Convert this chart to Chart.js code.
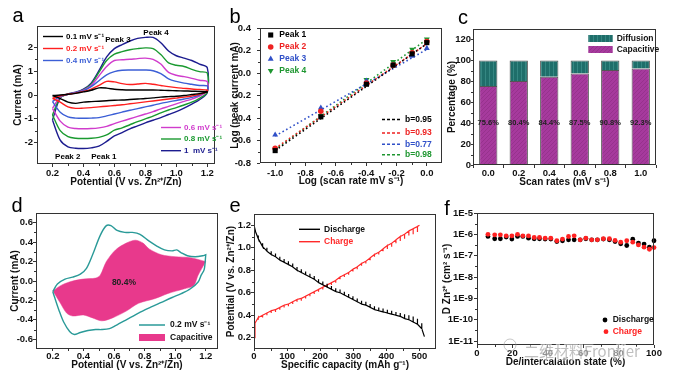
<!DOCTYPE html>
<html><head><meta charset="utf-8"><title>Zn-ion cathode kinetics</title>
<script src="https://cdn.jsdelivr.net/npm/chart.js@4.4.1/dist/chart.umd.min.js"></script>
<style>
html,body{margin:0;padding:0;background:#fff;overflow:hidden}
#fig{position:relative;width:677px;height:377px;background:#fff}
#fig canvas{position:absolute}
</style></head><body><div id="fig"></div>
<script>
// ================= DATA =================
// (a) CV curves at different scan rates
const cvPotentialUp   = [0.2,0.25,0.3,0.35,0.4,0.45,0.5,0.55,0.6,0.65,0.7,0.75,0.8,0.85,0.9,0.95,1.0,1.05,1.1,1.15,1.2];
const cvPotentialDown = [1.2,1.15,1.1,1.05,1.0,0.95,0.9,0.85,0.8,0.75,0.7,0.65,0.6,0.55,0.5,0.45,0.4,0.35,0.3,0.25,0.2];
const cvRateLabels = ['0.1 mV s⁻¹','0.2 mV s⁻¹','0.4 mV s⁻¹','0.6 mV s⁻¹','0.8 mV s⁻¹','1  mV s⁻¹'];
const cvUp01   = [-0.02,0.0,0.03,0.07,0.13,0.2,0.3,0.29,0.24,0.22,0.21,0.21,0.21,0.21,0.2,0.19,0.18,0.17,0.16,0.15,0.14];
const cvDown01 = [0.12,0.06,0.02,-0.02,-0.05,-0.07,-0.09,-0.12,-0.15,-0.17,-0.19,-0.21,-0.22,-0.24,-0.26,-0.28,-0.3,-0.35,-0.3,-0.15,-0.02];
const cvUp02   = [-0.14,-0.03,0.03,0.08,0.15,0.25,0.4,0.57,0.55,0.48,0.44,0.46,0.49,0.45,0.4,0.35,0.31,0.28,0.25,0.23,0.21];
const cvDown02 = [0.15,0.03,-0.04,-0.09,-0.13,-0.17,-0.21,-0.25,-0.29,-0.33,-0.37,-0.41,-0.44,-0.47,-0.5,-0.53,-0.55,-0.56,-0.5,-0.3,-0.14];
const cvUp04   = [-0.28,-0.05,0.03,0.1,0.18,0.35,0.6,0.85,0.98,1.04,1.05,1.05,1.05,1.02,0.9,0.68,0.57,0.5,0.45,0.4,0.38];
const cvDown04 = [0.2,0.0,-0.1,-0.17,-0.23,-0.29,-0.35,-0.43,-0.5,-0.57,-0.64,-0.72,-0.8,-0.88,-0.95,-0.97,-0.98,-0.97,-0.92,-0.72,-0.28];
const cvUp06   = [-0.56,-0.08,0.03,0.1,0.2,0.4,0.8,1.2,1.45,1.48,1.5,1.53,1.55,1.5,1.3,0.95,0.83,0.77,0.7,0.62,0.56];
const cvDown06 = [0.18,-0.05,-0.17,-0.27,-0.37,-0.48,-0.58,-0.7,-0.8,-0.9,-1.0,-1.1,-1.2,-1.32,-1.38,-1.41,-1.42,-1.41,-1.35,-1.1,-0.56];
const cvUp08   = [-0.84,-0.1,0.03,0.1,0.22,0.45,0.95,1.45,1.72,1.82,1.9,1.95,1.98,1.95,1.7,1.35,1.25,1.2,1.08,0.98,0.92];
const cvDown08 = [0.12,-0.14,-0.3,-0.42,-0.53,-0.63,-0.75,-0.89,-1.0,-1.12,-1.25,-1.38,-1.48,-1.68,-1.78,-1.82,-1.83,-1.82,-1.75,-1.5,-0.84];
const cvUp10   = [-1.05,-0.12,0.04,0.12,0.25,0.5,1.02,1.6,1.95,2.12,2.27,2.38,2.42,2.42,2.2,1.85,1.65,1.55,1.45,1.3,1.15];
const cvDown10 = [0.1,-0.2,-0.38,-0.55,-0.7,-0.82,-0.95,-1.06,-1.17,-1.3,-1.42,-1.58,-1.72,-1.95,-2.15,-2.22,-2.25,-2.24,-2.18,-1.9,-1.05];
const peakLabels = ['Peak 3','Peak 4','Peak 2','Peak 1'];
const peakLabelPotential = [0.623, 0.869, 0.299, 0.532];
const peakLabelCurrent   = [2.32, 2.63, -2.58, -2.58];
const aXTicks = [0.2,0.4,0.6,0.8,1.0,1.2];
const aYTicks = [-2,-1,0,1,2];

// (b) log(i) vs log(v)
const logScanRate = [-1.0,-0.699,-0.398,-0.222,-0.097,0.0];
const peakNames = ['Peak 1','Peak 2','Peak 3','Peak 4'];
const logPeak1 = [-0.69,-0.39,-0.10,0.07,0.17,0.27];
const logPeak2 = [-0.67,-0.34,-0.09,0.07,0.18,0.28];
const logPeak3 = [-0.55,-0.31,-0.07,0.07,0.15,0.22];
const logPeak4 = [-0.68,-0.38,-0.06,0.10,0.21,0.30];
const fitRange = [-1.0, 0.0];
const fitPeak1 = [-0.69, 0.26];
const fitPeak2 = [-0.67, 0.26];
const fitPeak3 = [-0.56, 0.21];
const fitPeak4 = [-0.68, 0.30];
const bValueLabels = ['b=0.95','b=0.93','b=0.77','b=0.98'];
const bXTicks = [-1.0,-0.8,-0.6,-0.4,-0.2,0.0];
const bYTicks = [-0.8,-0.6,-0.4,-0.2,0.0,0.2,0.4];

// (c) capacitive / diffusion contributions
const scanRates = ['0.0','0.2','0.4','0.6','0.8','1.0'];
const capacitivePct = [75.6,80.4,84.4,87.5,90.8,92.3];
const diffusionPct  = [24.4,19.6,15.6,12.5,9.2,7.7];
const cYTicks = [0,20,40,60,80,100,120];

// (d) CV at 0.2 mV/s with capacitive region
const dCvUpV   = [0.2,0.23,0.28,0.33,0.38,0.42,0.46,0.51,0.55,0.58,0.62,0.67,0.72,0.77,0.83,0.88,0.93,0.98,1.01,1.04,1.08,1.13,1.18,1.2];
const dCvUpI   = [-0.11,-0.03,0.02,0.04,0.07,0.13,0.27,0.47,0.57,0.57,0.52,0.5,0.5,0.48,0.41,0.36,0.32,0.31,0.32,0.29,0.26,0.25,0.26,0.27];
const dCvDownV = [1.2,1.19,1.17,1.15,1.1,1.04,0.98,0.91,0.84,0.76,0.68,0.61,0.57,0.52,0.48,0.43,0.38,0.34,0.31,0.27,0.24,0.21,0.2];
const dCvDownI = [0.27,0.12,0.06,-0.01,-0.08,-0.13,-0.17,-0.22,-0.27,-0.33,-0.4,-0.46,-0.49,-0.5,-0.5,-0.51,-0.53,-0.55,-0.52,-0.42,-0.3,-0.16,-0.11];
const dCapUpV   = [0.2,0.26,0.33,0.4,0.48,0.51,0.55,0.61,0.68,0.74,0.79,0.83,0.91,1.0,1.1,1.2];
const dCapUpI   = [-0.1,-0.04,0.0,0.02,0.03,0.06,0.2,0.32,0.39,0.42,0.39,0.33,0.27,0.25,0.24,0.2];
const dCapDownV = [1.2,1.15,1.12,1.06,0.95,0.87,0.76,0.68,0.59,0.52,0.46,0.4,0.33,0.29,0.25,0.2];
const dCapDownI = [0.2,0.06,-0.05,-0.08,-0.13,-0.18,-0.23,-0.31,-0.38,-0.41,-0.38,-0.35,-0.36,-0.33,-0.23,-0.1];
const dCapacitiveShare = '80.4%';
const dXTicks = [0.2,0.4,0.6,0.8,1.0,1.2];
const dYTicks = [-0.6,-0.4,-0.2,0.0,0.2,0.4,0.6];

// (e) GITT profiles
const dischargeCap   = [0,5,13,26,39,52,65,78,91,104,117,130,143,156,169,182,195,208,221,234,247,260,273,286,299,312,325,338,351,364,377,390,403,416,429,442,455,468,481,494,507,515];
const dischargeV     = [1.20,1.14,1.08,1.01,0.97,0.94,0.92,0.89,0.87,0.85,0.83,0.80,0.78,0.76,0.74,0.72,0.69,0.67,0.65,0.63,0.61,0.60,0.58,0.56,0.54,0.52,0.50,0.49,0.47,0.45,0.44,0.43,0.42,0.41,0.40,0.39,0.37,0.36,0.34,0.32,0.28,0.21];
const dischargeRelax = [1.20,1.14,1.11,1.04,1.00,0.97,0.95,0.92,0.90,0.88,0.86,0.83,0.81,0.79,0.77,0.75,0.72,0.70,0.68,0.66,0.64,0.63,0.61,0.59,0.57,0.55,0.53,0.52,0.50,0.48,0.47,0.46,0.45,0.44,0.43,0.42,0.41,0.40,0.39,0.37,0.33,0.21];
const chargeCap      = [0,3,13,26,39,52,65,78,91,104,117,130,143,156,169,182,195,208,221,234,247,260,273,286,299,312,325,338,351,364,377,390,403,416,429,442,455,468,481,494,500];
const chargeV        = [0.20,0.33,0.38,0.40,0.42,0.44,0.45,0.47,0.49,0.50,0.52,0.54,0.55,0.57,0.59,0.61,0.63,0.65,0.67,0.69,0.71,0.74,0.76,0.78,0.81,0.83,0.86,0.88,0.91,0.94,0.96,0.99,1.02,1.04,1.07,1.10,1.12,1.15,1.17,1.19,1.20];
const chargeRelax    = [0.20,0.33,0.36,0.38,0.40,0.42,0.43,0.45,0.47,0.48,0.50,0.52,0.53,0.55,0.57,0.59,0.61,0.63,0.65,0.67,0.69,0.72,0.74,0.76,0.79,0.81,0.84,0.86,0.89,0.92,0.94,0.97,0.99,1.01,1.04,1.06,1.08,1.11,1.12,1.14,1.20];
const eXTicks = [0,100,200,300,400,500];
const eYTicks = [0.2,0.4,0.6,0.8,1.0,1.2];

// (f) diffusion coefficient
const intercalationState = [6.2,10,13.2,16.5,19.7,22.9,25.9,29.1,32.3,35.3,38.5,41.7,45.1,48.3,51.7,54.9,58.3,61.5,64.8,68,71.4,74.8,78,81.2,84.6,88,91.2,94.4,97.4,100];
const dZnDischarge = [8.0e-7,6.2e-7,6.2e-7,7.4e-7,6.0e-7,8.0e-7,8.0e-7,6.6e-7,6.2e-7,6.2e-7,6.0e-7,6.0e-7,4.6e-7,5.0e-7,5.5e-7,5.5e-7,5.5e-7,6.2e-7,5.5e-7,5.5e-7,6.0e-7,5.5e-7,4.6e-7,3.6e-7,3.0e-7,5.9e-7,3.9e-7,3.5e-7,2.5e-7,5.0e-7];
const dZnCharge    = [1.0e-6,9.5e-7,9.5e-7,8.5e-7,8.5e-7,1.0e-6,8.5e-7,8.5e-7,7.1e-7,7.1e-7,6.6e-7,6.6e-7,5.0e-7,6.0e-7,7.9e-7,8.5e-7,5.5e-7,6.6e-7,5.5e-7,5.5e-7,6.2e-7,6.2e-7,5.2e-7,4.3e-7,5.0e-7,4.3e-7,3.2e-7,2.5e-7,2.0e-7,2.4e-7];
const fXTicks = [0,20,40,60,80,100];
const fYTicks = [1e-11,1e-10,1e-9,1e-8,1e-7,1e-6,1e-5];

// ================= RENDER =================
const FONT = '"Liberation Sans", Arial, Helvetica, sans-serif';
Chart.defaults.font.family = FONT;
Chart.defaults.color = '#111';
Chart.defaults.animation = false;
Chart.defaults.plugins.legend.display = false;
Chart.defaults.plugins.tooltip.enabled = false;

const fig = document.getElementById('fig');
function pts(xs, ys){ return xs.map((x,i)=>({x, y: ys[i]})); }

function scale(o){
  const s = {
    type: o.type || 'linear',
    position: o.position,
    offset: !!o.offset,
    border: {display:false},
    grid: {display:true, drawOnChartArea:false, drawTicks:true, tickLength:o.tl ?? 3, color:'#333', lineWidth:1},
    ticks: {font:{size:9.5, weight:'bold'}, color:'#111', padding:o.pad ?? 1, autoSkip:false, maxRotation:0, minRotation:0},
    title: {display:true, text:o.title, font:{size:10, weight:'bold'}, color:'#111', padding:o.titlePad},
    afterFit: (sc)=>{ if (sc.isHorizontal()) sc.height = o.size; else sc.width = o.size; }
  };
  if (o.min !== undefined) s.min = o.min;
  if (o.max !== undefined) s.max = o.max;
  if (o.fmt) s.ticks.callback = o.fmt;
  if (o.ticksAt) s.afterBuildTicks = (sc)=>{ sc.ticks = o.ticksAt.map(v=>({value:v})); };
  if (o.stacked) s.stacked = true;
  return s;
}
function text(ctx, s, x, y, size, color, align, weight){
  ctx.save();
  ctx.font = (weight || 'bold') + ' ' + size + 'px ' + FONT;
  ctx.fillStyle = color; ctx.textAlign = align || 'left'; ctx.textBaseline = 'middle';
  ctx.fillText(s, x, y); ctx.restore();
}
function panelLetter(ctx, s, x, y){
  ctx.save(); ctx.font = '20px ' + FONT; ctx.fillStyle = '#000'; ctx.textAlign = 'center'; ctx.textBaseline = 'alphabetic';
  ctx.fillText(s, x, y); ctx.restore();
}
function hline(ctx, x1, x2, y, color, w, dash){
  ctx.save(); ctx.strokeStyle = color; ctx.lineWidth = w; if (dash) ctx.setLineDash(dash);
  ctx.beginPath(); ctx.moveTo(x1, y); ctx.lineTo(x2, y); ctx.stroke(); ctx.restore();
}
// frame + minor ticks (midway between major ticks, or half-decade on log axes)
const framePlugin = { id:'frame', afterDraw(chart){
  const {ctx, chartArea:a} = chart;
  ctx.save(); ctx.strokeStyle = '#333'; ctx.lineWidth = 1;
  ctx.strokeRect(Math.round(a.left)+0.5, Math.round(a.top)+0.5, Math.round(a.right-a.left)-1, Math.round(a.bottom-a.top)-1);
  ['x','y'].forEach(id=>{
    const sc = chart.scales[id];
    if (!sc || sc.type === 'category') return;
    const vals = sc.ticks.map(t=>t.value);
    const mids = [];
    for (let i=0;i<vals.length-1;i++) mids.push(sc.type === 'logarithmic' ? Math.sqrt(vals[i]*vals[i+1]) : (vals[i]+vals[i+1])/2);
    ctx.beginPath();
    mids.forEach(v=>{
      const p = Math.round(sc.getPixelForValue(v)) + 0.5;
      if (id === 'x'){ ctx.moveTo(p, a.bottom); ctx.lineTo(p, a.bottom+2); }
      else { ctx.moveTo(a.left, p); ctx.lineTo(a.left-2, p); }
    });
    ctx.stroke();
  });
  ctx.restore();
}};

function makeChart(box, cfg, extra){
  const cv = document.createElement('canvas');
  cv.width = box.w; cv.height = box.h;
  cv.style.left = box.left + 'px'; cv.style.top = box.top + 'px';
  cv.style.width = box.w + 'px'; cv.style.height = box.h + 'px';
  fig.appendChild(cv);
  cfg.options = cfg.options || {};
  cfg.options.responsive = false;
  cfg.options.maintainAspectRatio = false;
  cfg.options.devicePixelRatio = 1;
  cfg.options.layout = {autoPadding:false, padding:{left:0, top:box.pt, right:box.pr, bottom:0}};
  cfg.plugins = [framePlugin, {id:'extra', afterDraw:(c)=>extra(c, c.ctx, box)}];
  return new Chart(cv, cfg);
}

// ---------- (a) ----------
const cvColors = ['#000000','#ff1f1f','#3c5fd6','#d03ccc','#1a9a30','#1c1c8f'];
const cvUps = [cvUp01,cvUp02,cvUp04,cvUp06,cvUp08,cvUp10];
const cvDowns = [cvDown01,cvDown02,cvDown04,cvDown06,cvDown08,cvDown10];
makeChart({left:0, top:0, w:225, h:190, pt:26, pr:10}, {
  type:'scatter',
  data:{datasets: cvUps.map((up,k)=>({
    label: cvRateLabels[k],
    data: pts(cvPotentialUp, up).concat(pts(cvPotentialDown, cvDowns[k])),
    showLine:true, pointRadius:0, borderColor:cvColors[k], borderWidth:1.4, tension:0.3
  }))},
  options:{scales:{
    x: scale({position:'bottom', min:0.1, max:1.25, ticksAt:aXTicks, fmt:v=>v.toFixed(1), size:26, pad:1, title:'Potential (V vs. Zn²⁺/Zn)', titlePad:{top:0,bottom:1.6}}),
    y: scale({position:'left', min:-2.9, max:2.9, ticksAt:aYTicks, fmt:v=>String(v), size:37, pad:1, title:'Current (mA)', titlePad:{top:12.6,bottom:0}})
  }}
}, (c, ctx)=>{
  const xs = c.scales.x, ys = c.scales.y;
  peakLabels.forEach((s,i)=>text(ctx, s, xs.getPixelForValue(peakLabelPotential[i]), ys.getPixelForValue(peakLabelCurrent[i]), 8, '#000', 'center'));
  const rowsTop = [36.5, 48.5, 60.5];
  for (let k=0;k<3;k++){ hline(ctx, 43, 63, rowsTop[k], cvColors[k], 1.4); text(ctx, cvRateLabels[k], 66, rowsTop[k], 8, cvColors[k]); }
  const rowsBot = [127.5, 139, 150.7];
  for (let k=3;k<6;k++){ hline(ctx, 161, 181, rowsBot[k-3], cvColors[k], 1.4); text(ctx, cvRateLabels[k], 184, rowsBot[k-3], 8, cvColors[k]); }
  panelLetter(ctx, 'a', 18, 22);
});

// ---------- (b) ----------
const bColors = ['#000000','#ee2222','#3050c8','#1e9630'];
const bStyles = [{s:'rect',r:3.6,rot:0},{s:'circle',r:2.8,rot:0},{s:'triangle',r:3.4,rot:0},{s:'triangle',r:3.4,rot:180}];
const logPeaks = [logPeak1,logPeak2,logPeak3,logPeak4];
const fits = [fitPeak1,fitPeak2,fitPeak3,fitPeak4];
makeChart({left:225, top:0, w:225, h:190, pt:28, pr:8}, {
  type:'scatter',
  data:{datasets: logPeaks.map((p,k)=>({
      label: peakNames[k], data: pts(logScanRate, p), pointStyle:bStyles[k].s, pointRotation:bStyles[k].rot,
      pointRadius:bStyles[k].r, backgroundColor:bColors[k], borderColor:bColors[k], borderWidth:0
    })).concat(fits.map((f,k)=>({
      label: bValueLabels[k], data: pts(fitRange, f), showLine:true, pointRadius:0,
      borderColor:bColors[k], borderWidth:1.6, borderDash:[1.6,2.6]
    })))},
  options:{scales:{
    x: scale({position:'bottom', min:-1.1, max:0.1, ticksAt:bXTicks, fmt:v=>v.toFixed(1), size:27, pad:2, title:'Log (scan rate mV s⁻¹)', titlePad:{top:0,bottom:2.3}}),
    y: scale({position:'left', min:-0.8, max:0.4, ticksAt:bYTicks, fmt:v=>v.toFixed(1), size:35, pad:6, title:'Log (peak current mA)', titlePad:{top:4.6,bottom:0}})
  }}
}, (c, ctx, box)=>{
  const rows = [35, 47, 59, 70.7];
  rows.forEach((y,k)=>{
    ctx.save(); ctx.fillStyle = bColors[k]; ctx.strokeStyle = bColors[k];
    Chart.helpers.drawPoint(ctx, {pointStyle:bStyles[k].s, radius:bStyles[k].r, rotation:bStyles[k].rot, borderWidth:0}, 270.7-box.left, y);
    ctx.restore();
    text(ctx, peakNames[k], 279.3-box.left, y, 8.5, bColors[k]);
  });
  const rows2 = [119.5, 133, 144.2, 154.7];
  rows2.forEach((y,k)=>{ hline(ctx, 382-box.left, 401-box.left, y, bColors[k], 1.6, [3,2]); text(ctx, bValueLabels[k], 405-box.left, y, 8.5, bColors[k]); });
  panelLetter(ctx, 'b', 235-box.left, 23);
});

// ---------- (c) ----------
function makePattern(bg, line, kind){
  const t = document.createElement('canvas'); t.width = 4; t.height = 4;
  const g = t.getContext('2d'); g.fillStyle = bg; g.fillRect(0,0,4,4);
  g.strokeStyle = line; g.lineWidth = 0.8; g.beginPath();
  if (kind === 'diag'){ g.moveTo(-1,5); g.lineTo(5,-1); g.moveTo(-1,1); g.lineTo(1,-1); g.moveTo(3,5); g.lineTo(5,3); }
  else { g.moveTo(1.5,0); g.lineTo(1.5,4); }
  g.stroke();
  return g.createPattern(t, 'repeat');
}
const capPattern = makePattern('#a63a9d', '#933089', 'diag');
const difPattern = makePattern('#1f6e6a', '#3b8e89', 'vert');
makeChart({left:444, top:0, w:233, h:190, pt:29, pr:21}, {
  type:'bar',
  data:{labels: scanRates, datasets:[
    {label:'Capacitive', data:capacitivePct, backgroundColor:capPattern, borderColor:'#555', borderWidth:1, barPercentage:0.6, categoryPercentage:1},
    {label:'Diffusion', data:diffusionPct, backgroundColor:difPattern, borderColor:'#555', borderWidth:1, barPercentage:0.6, categoryPercentage:1}
  ]},
  options:{scales:{
    x: scale({type:'category', position:'bottom', offset:true, stacked:true, size:25, pad:0, title:'Scan rates (mV s⁻¹)', titlePad:{top:0,bottom:1.9}}),
    y: scale({position:'left', min:0, max:130, stacked:true, ticksAt:cYTicks, fmt:v=>String(v), size:29, pad:0, tl:2, title:'Percentage (%)', titlePad:{top:2.6,bottom:0}})
  }}
}, (c, ctx, box)=>{
  const xs = c.scales.x, ys = c.scales.y;
  capacitivePct.forEach((v,i)=>text(ctx, v.toFixed(1)+'%', xs.getPixelForValue(i), ys.getPixelForValue(40), 7.5, '#222', 'center'));
  const bx = 588.3-box.left, bw = 24.4;
  ctx.save();
  ctx.fillStyle = difPattern; ctx.fillRect(bx, 35, bw, 7);
  ctx.fillStyle = capPattern; ctx.fillRect(bx, 46, bw, 7);
  ctx.restore();
  text(ctx, 'Diffusion', 616.7-box.left, 38.5, 8.5, '#111');
  text(ctx, 'Capacitive', 616.7-box.left, 49.5, 8.5, '#111');
  panelLetter(ctx, 'c', 463-box.left, 24);
});

// ---------- (d) ----------
makeChart({left:0, top:190, w:225, h:187, pt:23, pr:7}, {
  type:'scatter',
  data:{datasets:[
    {label:'0.2 mV s⁻¹', data: pts(dCvUpV, dCvUpI).concat(pts(dCvDownV, dCvDownI)), showLine:true, pointRadius:0, borderColor:'#2a9a98', borderWidth:1.4, tension:0.3},
    {label:'Capacitive', data: pts(dCapUpV, dCapUpI).concat(pts(dCapDownV, dCapDownI)), showLine:true, pointRadius:0, borderColor:'#e8398c', borderWidth:0.5, backgroundColor:'#e8398c', fill:'shape', tension:0.3}
  ]},
  options:{scales:{
    x: scale({position:'bottom', min:0.09, max:1.28, ticksAt:dXTicks, fmt:v=>v.toFixed(1), size:28, pad:0, tl:2, title:'Potential (V vs. Zn²⁺/Zn)', titlePad:{top:0,bottom:5.9}}),
    y: scale({position:'left', min:-0.7, max:0.7, ticksAt:dYTicks, fmt:v=>v.toFixed(1), size:36, pad:0, title:'Current (mA)', titlePad:{top:9.6,bottom:0}})
  }}
}, (c, ctx, box)=>{
  const xs = c.scales.x, ys = c.scales.y;
  text(ctx, dCapacitiveShare, xs.getPixelForValue(0.665), ys.getPixelForValue(-0.02), 8.5, '#222', 'center');
  hline(ctx, 139, 165, 325-box.top, '#2a9a98', 1.5);
  text(ctx, '0.2 mV s⁻¹', 170, 325-box.top, 8.5, '#111');
  ctx.save(); ctx.fillStyle = '#e8398c'; ctx.fillRect(139, 334-box.top, 26, 7); ctx.restore();
  text(ctx, 'Capacitive', 170, 337.5-box.top, 8.5, '#111');
  panelLetter(ctx, 'd', 17, 211.7-box.top);
});

// ---------- (e) ----------
function gitt(cap, v, r){
  const out = [];
  for (let i=0;i<cap.length;i++){
    out.push({x:cap[i], y:v[i]});
    if (r[i] !== v[i]){ out.push({x:cap[i], y:r[i]}); out.push({x:cap[i], y:v[i]}); }
  }
  return out;
}
makeChart({left:225, top:190, w:225, h:187, pt:24, pr:14}, {
  type:'scatter',
  data:{datasets:[
    {label:'Discharge', data:gitt(dischargeCap, dischargeV, dischargeRelax), showLine:true, pointRadius:0, borderColor:'#000', borderWidth:1.2, tension:0},
    {label:'Charge', data:gitt(chargeCap, chargeV, chargeRelax), showLine:true, pointRadius:0, borderColor:'#ff2a2a', borderWidth:1.2, tension:0}
  ]},
  options:{scales:{
    x: scale({position:'bottom', min:0, max:550, ticksAt:eXTicks, fmt:v=>String(v), size:28, pad:0, tl:2, title:'Specific capacity (mAh g⁻¹)', titlePad:{top:0,bottom:5.9}}),
    y: scale({position:'left', min:0.1, max:1.3, ticksAt:eYTicks, fmt:v=>v.toFixed(1), size:29, pad:0, title:'Potential (V vs. Zn²⁺/Zn)', titlePad:{top:0.6,bottom:0}})
  }}
}, (c, ctx, box)=>{
  hline(ctx, 299-box.left, 320-box.left, 229.3-box.top, '#000', 1.4);
  text(ctx, 'Discharge', 324-box.left, 229.3-box.top, 8.5, '#111');
  hline(ctx, 299-box.left, 320-box.left, 241.7-box.top, '#ff2a2a', 1.4);
  text(ctx, 'Charge', 324-box.left, 241.7-box.top, 8.5, '#ff2a2a');
  panelLetter(ctx, 'e', 235-box.left, 211.7-box.top);
});

// ---------- (f) ----------
makeChart({left:440, top:190, w:237, h:187, pt:23, pr:23}, {
  type:'scatter',
  data:{datasets:[
    {label:'Charge', data:pts(intercalationState, dZnCharge), pointRadius:2.4, backgroundColor:'#ff2222', borderWidth:0, clip:false},
    {label:'Discharge', data:pts(intercalationState, dZnDischarge), pointRadius:2.4, backgroundColor:'#000', borderWidth:0, clip:false}
  ]},
  options:{scales:{
    x: scale({position:'bottom', min:0, max:100, ticksAt:fXTicks, fmt:v=>String(v), size:32, pad:0, title:'De/intercalation state (%)', titlePad:{top:0,bottom:8.6}}),
    y: scale({type:'logarithmic', position:'left', min:6.5e-12, max:1e-5, ticksAt:fYTicks, fmt:v=>'1E'+Math.round(Math.log10(v)), size:37, pad:1, title:'D Zn²⁺ (cm² s⁻¹)', titlePad:{top:1.6,bottom:0}})
  }}
}, (c, ctx, box)=>{
  ctx.save();
  ctx.fillStyle = '#000'; ctx.beginPath(); ctx.arc(605-box.left, 320-box.top, 2.4, 0, Math.PI*2); ctx.fill();
  ctx.fillStyle = '#ff2222'; ctx.beginPath(); ctx.arc(606-box.left, 331.7-box.top, 2.4, 0, Math.PI*2); ctx.fill();
  ctx.restore();
  text(ctx, 'Discharge', 612.7-box.left, 320-box.top, 8.5, '#111');
  text(ctx, 'Charge', 612.7-box.left, 331.7-box.top, 8.5, '#ff2222');
  // watermark
  ctx.save();
  ctx.globalAlpha = 0.55;
  ctx.strokeStyle = '#999'; ctx.lineWidth = 1;
  ctx.beginPath(); ctx.arc(510-box.left, 345-box.top, 6, 0, Math.PI*2); ctx.stroke();
  ctx.font = '15px "Noto Sans CJK SC", ' + FONT; ctx.textBaseline = 'middle';
  ctx.lineWidth = 3; ctx.strokeStyle = '#fff'; ctx.strokeText('二维材料Frontier', 524-box.left, 351-box.top);
  ctx.fillStyle = '#8a8a8a'; ctx.fillText('二维材料Frontier', 524-box.left, 351-box.top);
  ctx.restore();
  panelLetter(ctx, 'f', 447-box.left, 215-box.top);
});
</script></body></html>
